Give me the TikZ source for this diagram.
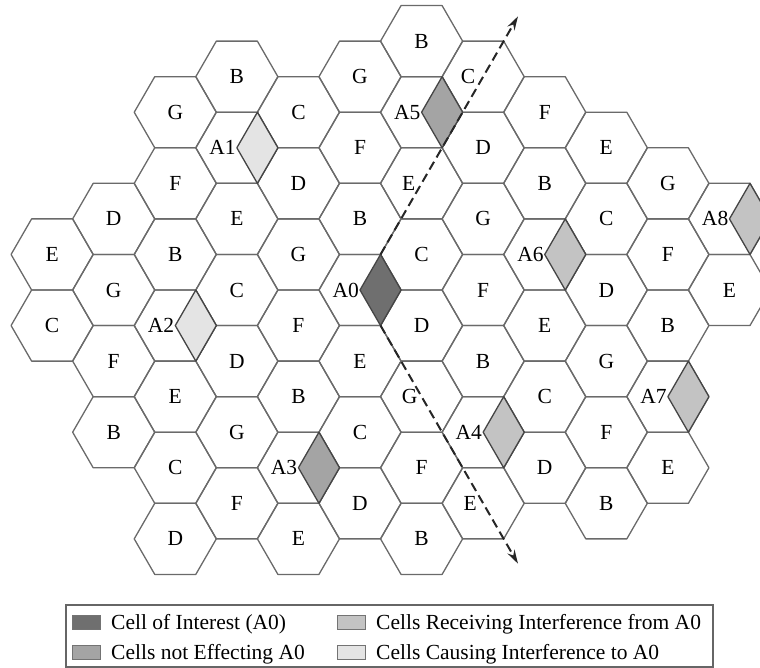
\documentclass[tikz,border=0pt]{standalone}
\usepackage{fontspec}
\setmainfont{Liberation Serif}
\usetikzlibrary{arrows.meta}
\definecolor{edgegray}{HTML}{6A6A6A}
\definecolor{sectoredge}{HTML}{454545}
\definecolor{interest}{HTML}{6F6F6F}
\definecolor{noeffect}{HTML}{A4A4A4}
\definecolor{receiving}{HTML}{C3C3C3}
\definecolor{causing}{HTML}{E4E4E4}

\begin{document}
\begin{tikzpicture}[x=1pt, y=-1pt,
  every node/.style={font=\fontsize{21.5}{25}\selectfont, inner sep=0pt},
  cell/.style={draw=edgegray, line width=1.3pt, line join=round},
  sector/.style={draw=sectoredge, line width=1.3pt, line join=round},
  beam/.style={draw=black!85, line width=2pt, dash pattern=on 9pt off 5pt,
    -{Stealth[length=14pt, width=8pt]}},
  swatch/.style={draw=black!55, line width=1pt, minimum width=28pt,
    minimum height=14pt, anchor=north west},
  keytext/.style={anchor=base west}]
  \useasboundingbox (0,0) rectangle (760,668);

  % Plain cells: column / row / letter / label shift
  \foreach \c/\m/\t/\s in {
      -5/-1/E/0, -5/1/C/0,
      -4/-2/D/0, -4/0/G/0, -4/2/F/0, -4/4/B/0,
      -3/-5/G/0, -3/-3/F/0, -3/-1/B/0, -3/3/E/0, -3/5/C/0, -3/7/D/0,
      -2/-6/B/0, -2/-2/E/0, -2/0/C/0, -2/2/D/0, -2/4/G/0, -2/6/F/0,
      -1/-5/C/0, -1/-3/D/0, -1/-1/G/0, -1/1/F/0, -1/3/B/0, -1/7/E/0,
      0/-6/G/0, 0/-4/F/0, 0/-2/B/0, 0/2/E/0, 0/4/C/0, 0/6/D/0,
      1/-7/B/0, 1/-3/E/-13, 1/-1/C/0, 1/1/D/0, 1/3/G/-12, 1/5/F/0, 1/7/B/0,
      2/-6/C/-15, 2/-4/D/0, 2/-2/G/0, 2/0/F/0, 2/2/B/0, 2/6/E/-13,
      3/-5/F/0, 3/-3/B/0, 3/1/E/0, 3/3/C/0, 3/5/D/0,
      4/-4/E/0, 4/-2/C/0, 4/0/D/0, 4/2/G/0, 4/4/F/0, 4/6/B/0,
      5/-3/G/0, 5/-1/F/0, 5/1/B/0, 5/5/E/0,
      6/0/E/0} {
    \coordinate (p) at ({360+61.575*(\c)}, {290+35.55*(\m)});
    \draw[cell] (p) +(0:41.05) -- +(60:41.05) -- +(120:41.05) -- +(180:41.05)
      -- +(240:41.05) -- +(300:41.05) -- cycle;
    \node (n\c\m) at ([xshift=\s pt]p) {\t};
  }

  % Sectored cells: column / row / name / fill
  \foreach \c/\m/\t/\f in {0/0/A0/interest, -2/-4/A1/causing, -3/1/A2/causing,
      -1/5/A3/noeffect, 2/4/A4/receiving, 1/-5/A5/noeffect,
      3/-1/A6/receiving, 5/3/A7/receiving, 6/-2/A8/receiving} {
    \coordinate (p) at ({360+61.575*(\c)}, {290+35.55*(\m)});
    \draw[cell] (p) +(0:41.05) -- +(60:41.05) -- +(120:41.05) -- +(180:41.05)
      -- +(240:41.05) -- +(300:41.05) -- cycle;
    \filldraw[sector, fill=\f] (p) -- +(300:41.05) -- +(0:41.05) -- +(60:41.05) -- cycle;
    \node[anchor=east] (\t) at ([xshift=-1pt]p) {\t};
  }

  % Beam edges of A0
  \coordinate (beamup) at (380.525, 254.45);
  \coordinate (beamdown) at (380.525, 325.55);
  \path (beamup) ++(300:275) coordinate (tipup);
  \path (beamdown) ++(60:275) coordinate (tipdown);
  \draw[beam] (beamup) -- (tipup);
  \draw[beam] (beamdown) -- (tipdown);

  % Legend
  \draw[draw=black!60, line width=1.5pt] (66,605) rectangle (713,667);
  \node[swatch, fill=interest] (keyinterest) at (72,615) {};
  \node[keytext] (txtinterest) at (111,629) {Cell of Interest (A0)};
  \node[swatch, fill=noeffect] (keynoeffect) at (72,645) {};
  \node[keytext] (txtnoeffect) at (111,659) {Cells not Effecting A0};
  \node[swatch, fill=receiving] (keyreceiving) at (337,615) {};
  \node[keytext] (txtreceiving) at (376,629) {Cells Receiving Interference from A0};
  \node[swatch, fill=causing] (keycausing) at (337,645) {};
  \node[keytext] (txtcausing) at (376,659) {Cells Causing Interference to A0};
\end{tikzpicture}
\end{document}
